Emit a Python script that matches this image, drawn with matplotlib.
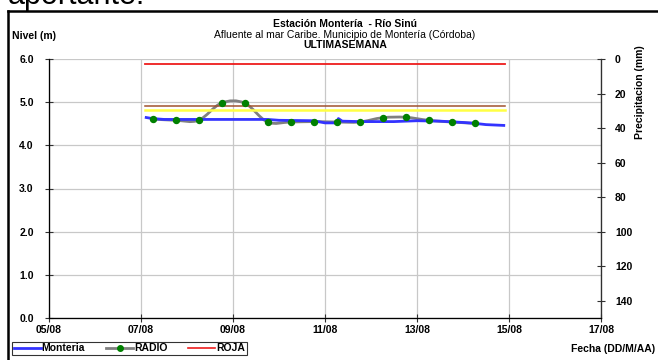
import numpy as np
import pandas as pd
import matplotlib
matplotlib.use("Agg")
import matplotlib.pyplot as plt
import matplotlib.dates as mdates
from matplotlib.path import Path
from matplotlib.patches import PathPatch
from matplotlib.lines import Line2D

plt.rcParams['font.family'] = ['Liberation Sans', 'DejaVu Sans']

# data
monteria_t = ["2023-08-07 02:00", "2023-08-07 06:00", "2023-08-07 12:00", "2023-08-09 18:00",
              "2023-08-10 00:00", "2023-08-10 18:00", "2023-08-11 00:00", "2023-08-11 06:00",
              "2023-08-11 07:00", "2023-08-11 09:00", "2023-08-11 18:00", "2023-08-12 12:00",
              "2023-08-13 00:00", "2023-08-13 12:00", "2023-08-14 00:00", "2023-08-14 06:00",
              "2023-08-14 12:00", "2023-08-14 22:00"]
monteria_v = [4.65, 4.62, 4.60, 4.60, 4.58, 4.57, 4.52, 4.52, 4.62, 4.56, 4.55, 4.55,
              4.57, 4.56, 4.53, 4.51, 4.48, 4.46]

radio_t = pd.date_range("2023-08-07 06:00", "2023-08-14 06:00", freq="12h")
radio_v = [4.61, 4.58, 4.58, 4.98, 4.98, 4.54, 4.54, 4.55, 4.54, 4.54, 4.64, 4.65, 4.58, 4.54, 4.51]

umbral_t = ["2023-08-07 02:00", "2023-08-14 22:00"]
roja = 5.88
naranja = 4.92
amarilla = 4.81

x_ticks = pd.date_range("2023-08-05", "2023-08-17", freq="2D")

fig = plt.figure(figsize=(6.58, 3.6), dpi=100)
ax = fig.add_axes([49/658, 42/360, 552/658, 259/360])

ax.set_xlim(mdates.date2num(pd.Timestamp("2023-08-05")), mdates.date2num(pd.Timestamp("2023-08-17")))
ax.set_ylim(0, 6)
ax.set_xticks(mdates.date2num(x_ticks))
ax.xaxis.set_major_formatter(mdates.DateFormatter("%d/%m"))
ax.set_yticks(np.arange(0, 6.1, 1.0))
ax.yaxis.set_major_formatter(matplotlib.ticker.FormatStrFormatter("%.1f"))
ax.grid(True, color="#c8c8c8", lw=0.9)
ax.set_axisbelow(True)
ax.spines["top"].set_visible(False)
for s in ["left", "bottom", "right"]:
    ax.spines[s].set_color("#303030")
    ax.spines[s].set_linewidth(0.9)
ax.tick_params(direction="inout", length=6, width=0.8, labelsize=7.5, color="#303030")
ax.tick_params(axis="y", pad=8)
ax.tick_params(axis="x", pad=2)
for lbl in ax.get_xticklabels() + ax.get_yticklabels():
    lbl.set_fontweight("bold")

ut = mdates.date2num(pd.to_datetime(umbral_t))
ax.plot(ut, [roja, roja], color="#ee1c1c", lw=1.3)
ax.plot(ut, [naranja, naranja], color="#a0522d", lw=1.1)
ax.plot(ut, [amarilla, amarilla], color="#ffff44", lw=1.8)

mt = mdates.date2num(pd.to_datetime(monteria_t))
ax.plot(mt, monteria_v, color="#3333ff", lw=2.0, solid_capstyle="butt")

# RADIO: smoothed line (bezier through the points, like the source chart)
rx = mdates.date2num(radio_t)
ry = np.array(radio_v)
pts = np.column_stack([rx, ry])
verts = [pts[0]]
codes = [Path.MOVETO]
n = len(pts)
for i in range(n - 1):
    p0 = pts[i - 1] if i > 0 else pts[i]
    p3 = pts[i + 2] if i + 2 < n else pts[i + 1]
    c1 = pts[i] + (pts[i + 1] - p0) / 6
    c2 = pts[i + 1] - (p3 - pts[i]) / 6
    verts += [c1, c2, pts[i + 1]]
    codes += [Path.CURVE4] * 3
ax.add_patch(PathPatch(Path(verts, codes), fill=False, edgecolor="#808080", lw=2.0))
ax.plot(rx, ry, "o", color="#008000", ms=4.3, zorder=5)

# right axis: precipitation
ax2 = ax.twinx()
ax2.set_ylim(150, 0)
ax2.set_yticks(np.arange(0, 141, 20))
ax2.spines["top"].set_visible(False)
ax2.spines["right"].set_color("#303030")
ax2.tick_params(direction="inout", length=6, width=0.8, labelsize=7.5, color="#303030", pad=7)
for lbl in ax2.get_yticklabels():
    lbl.set_fontweight("bold")
fig.text(640/658, 1 - 92/360, "Precipitacion (mm)", rotation=90, ha="center", va="center",
         fontsize=7.5, fontweight="bold")

# titles
fig.text(345/658, 1 - 24/360, "Estación Montería  - Río Sinú", ha="center", va="center",
         fontsize=7.5, fontweight="bold")
fig.text(345/658, 1 - 35/360, "Afluente al mar Caribe. Municipio de Montería (Córdoba)", ha="center",
         va="center", fontsize=7.5)
fig.text(345/658, 1 - 45/360, "ULTIMASEMANA", ha="center", va="center", fontsize=7.5, fontweight="bold")
fig.text(12/658, 1 - 36/360, "Nivel (m)", ha="left", va="center", fontsize=7.5, fontweight="bold")
fig.text(655/658, 1 - 349/360, "Fecha (DD/M/AA)", ha="right", va="center", fontsize=7.5,
         fontweight="bold")

# legend
handles = [Line2D([], [], color="#3333ff", lw=2.0),
           Line2D([], [], color="#808080", lw=2.0, marker="o", mfc="#008000", mec="#008000", ms=4),
           Line2D([], [], color="#ee1c1c", lw=1.2)]
leg = fig.legend(handles, ["Monteria", "RADIO", "ROJA"], ncol=3, loc="lower left",
                 bbox_to_anchor=(12/658, 5/360), frameon=True, fancybox=False,
                 prop={"size": 7.5, "weight": "bold"}, handlelength=2.6, handletextpad=0.1,
                 columnspacing=2.0, borderpad=0.15, borderaxespad=0)
leg.get_frame().set_edgecolor("black")
leg.get_frame().set_linewidth(0.8)

# page frame and cut text from the surrounding document
fig.add_artist(Line2D([8/658, 8/658], [0, 1 - 11/360], color="black", lw=1.8))
fig.add_artist(Line2D([8/658, 1], [1 - 11/360, 1 - 11/360], color="black", lw=1.8))
fig.text(8/658, 1 - 4/360, "aportante:", ha="left", va="baseline", fontsize=22)

fig.savefig("out.png", dpi=100)
